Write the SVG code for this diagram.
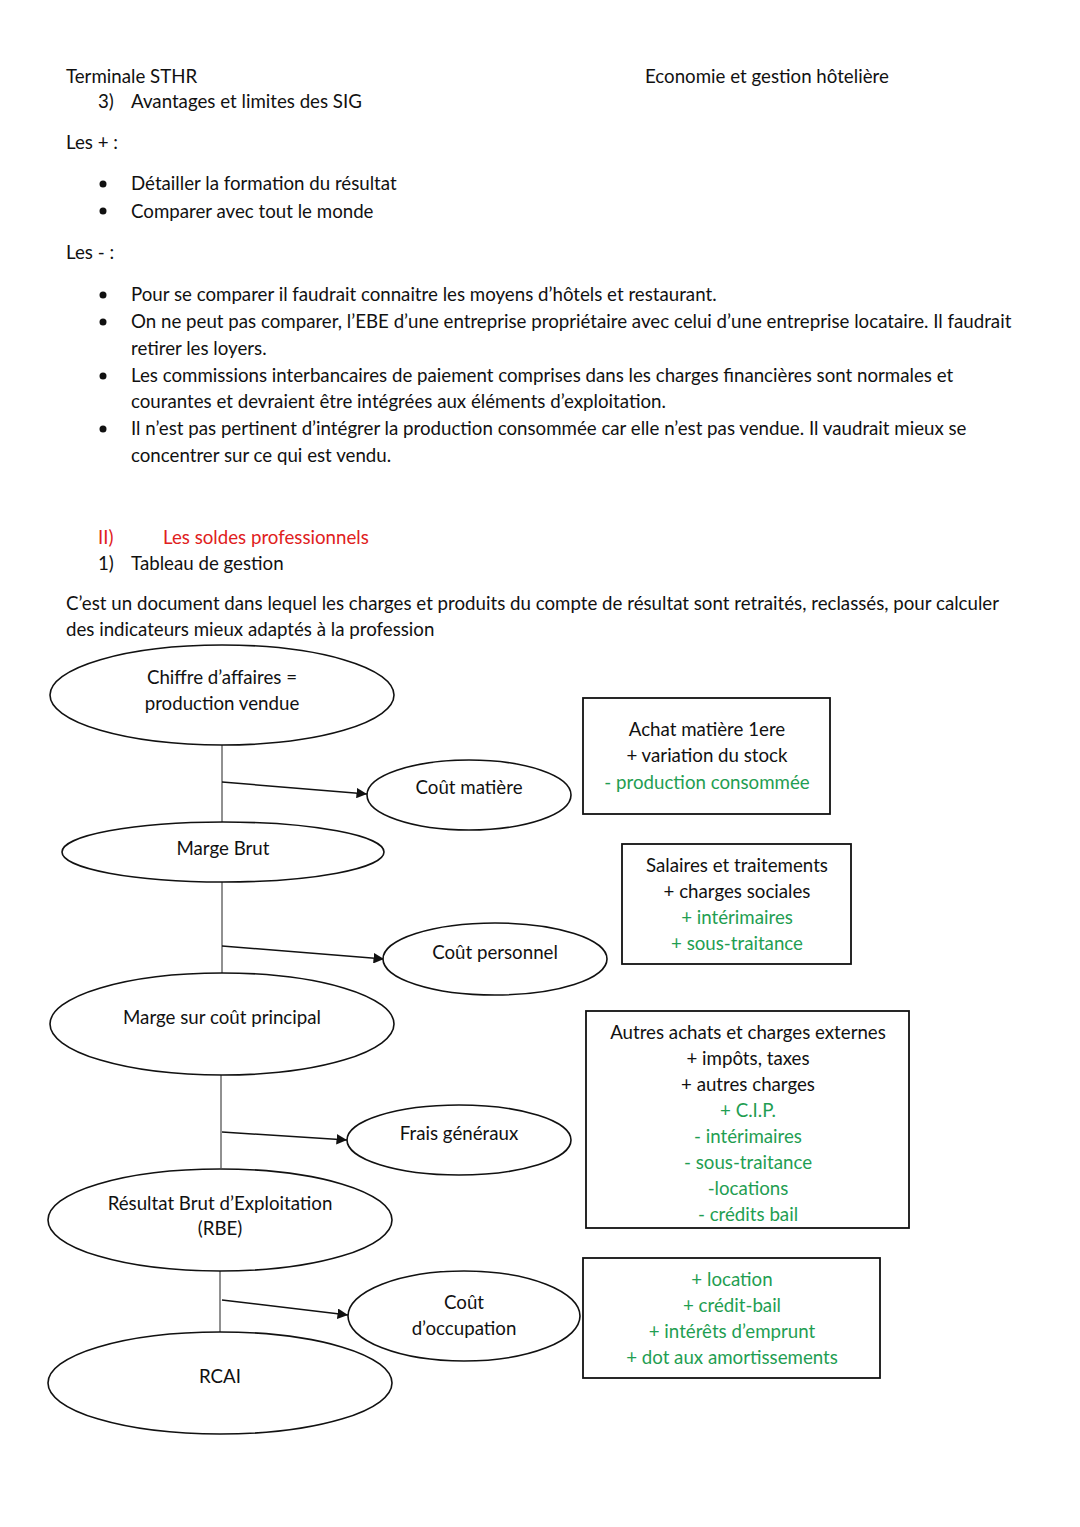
<svg xmlns="http://www.w3.org/2000/svg" width="1080" height="1527" viewBox="0 0 1080 1527">
<style>
text{font-family:Lato,"Open Sans","Liberation Sans",sans-serif;font-size:18.7px;fill:#111}
.c{text-anchor:middle}
.g{fill:#1f9e52}
.r{fill:#e02020}
.n{fill:#fff;stroke:#111;stroke-width:1.6}
.b{fill:#fff;stroke:#111;stroke-width:1.8}
.v{stroke:#222;stroke-width:1}
.a{stroke:#111;stroke-width:1.5;marker-end:url(#ah)}
</style>
<defs>
<marker id="ah" viewBox="0 0 10 10" refX="10" refY="5" markerWidth="7" markerHeight="7" markerUnits="strokeWidth" orient="auto">
<path d="M0,0L10,5L0,10z" fill="#111"/>
</marker>
</defs>
<rect width="1080" height="1527" fill="#fff"/>
<g id="header">
<text x="66" y="83">Terminale STHR</text>
<text x="645" y="83">Economie et gestion hôtelière</text>
<text x="98" y="108">3)</text>
<text x="131" y="108">Avantages et limites des SIG</text>
<text x="66" y="149">Les + :</text>
<circle cx="103" cy="184" r="3.5" fill="#111"/>
<text x="131" y="190">Détailler la formation du résultat</text>
<circle cx="103" cy="211" r="3.5" fill="#111"/>
<text x="131" y="218">Comparer avec tout le monde</text>
<text x="66" y="259">Les - :</text>
<circle cx="103" cy="295" r="3.5" fill="#111"/>
<text x="131" y="301">Pour se comparer il faudrait connaitre les moyens d’hôtels et restaurant.</text>
<circle cx="103" cy="322" r="3.5" fill="#111"/>
<text x="131" y="328">On ne peut pas comparer, l’EBE d’une entreprise propriétaire avec celui d’une entreprise locataire. Il faudrait</text>
<text x="131" y="355">retirer les loyers.</text>
<circle cx="103" cy="376" r="3.5" fill="#111"/>
<text x="131" y="382">Les commissions interbancaires de paiement comprises dans les charges financières sont normales et</text>
<text x="131" y="408">courantes et devraient être intégrées aux éléments d’exploitation.</text>
<circle cx="103" cy="429" r="3.5" fill="#111"/>
<text x="131" y="435">Il n’est pas pertinent d’intégrer la production consommée car elle n’est pas vendue. Il vaudrait mieux se</text>
<text x="131" y="462">concentrer sur ce qui est vendu.</text>
<text x="98" y="544" class="r">II)</text>
<text x="163" y="544" class="r">Les soldes professionnels</text>
<text x="98" y="570">1)</text>
<text x="131" y="570">Tableau de gestion</text>
<text x="66" y="610">C’est un document dans lequel les charges et produits du compte de résultat sont retraités, reclassés, pour calculer</text>
<text x="66" y="636">des indicateurs mieux adaptés à la profession</text>
</g>
<g id="connectors">
<line class="v" x1="222" y1="745" x2="222" y2="823"/>
<line class="a" x1="222" y1="782" x2="367" y2="794"/>
<line class="v" x1="222" y1="882" x2="222" y2="973"/>
<line class="a" x1="222" y1="946" x2="384" y2="959"/>
<line class="v" x1="221" y1="1075" x2="221" y2="1168"/>
<line class="a" x1="222" y1="1132" x2="347" y2="1140"/>
<line class="v" x1="220" y1="1271" x2="220" y2="1332"/>
<line class="a" x1="222" y1="1300" x2="348" y2="1315"/>
</g>
<g id="ca">
<ellipse class="n" cx="222" cy="695" rx="172" ry="50"/>
<text class="c" x="222" y="684">Chiffre d’affaires =</text>
<text class="c" x="222" y="710">production vendue</text>
</g>
<g id="cout-matiere">
<ellipse class="n" cx="469" cy="795" rx="102" ry="35"/>
<text class="c" x="469" y="794">Coût matière</text>
</g>
<g id="marge-brut">
<ellipse class="n" cx="223" cy="852" rx="161" ry="30"/>
<text class="c" x="223" y="855">Marge Brut</text>
</g>
<g id="cout-personnel">
<ellipse class="n" cx="495" cy="959" rx="112" ry="36"/>
<text class="c" x="495" y="959">Coût personnel</text>
</g>
<g id="marge-cout-principal">
<ellipse class="n" cx="222" cy="1024" rx="172" ry="51"/>
<text class="c" x="222" y="1024">Marge sur coût principal</text>
</g>
<g id="frais-generaux">
<ellipse class="n" cx="459" cy="1140" rx="112" ry="35"/>
<text class="c" x="459" y="1140">Frais généraux</text>
</g>
<g id="rbe">
<ellipse class="n" cx="220" cy="1220" rx="172" ry="51"/>
<text class="c" x="220" y="1210">Résultat Brut d’Exploitation</text>
<text class="c" x="220" y="1235">(RBE)</text>
</g>
<g id="cout-occupation">
<ellipse class="n" cx="464" cy="1316" rx="116" ry="45"/>
<text class="c" x="464" y="1309">Coût</text>
<text class="c" x="464" y="1335">d’occupation</text>
</g>
<g id="rcai">
<ellipse class="n" cx="220" cy="1383" rx="172" ry="51"/>
<text class="c" x="220" y="1383">RCAI</text>
</g>
<g id="box-matiere">
<rect class="b" x="583" y="698" width="247" height="116"/>
<text class="c" x="707" y="736">Achat matière 1ere</text>
<text class="c" x="707" y="762">+ variation du stock</text>
<text class="c g" x="707" y="789">- production consommée</text>
</g>
<g id="box-personnel">
<rect class="b" x="622" y="844" width="229" height="120"/>
<text class="c" x="737" y="872">Salaires et traitements</text>
<text class="c" x="737" y="898">+ charges sociales</text>
<text class="c g" x="737" y="924">+ intérimaires</text>
<text class="c g" x="737" y="950">+ sous-traitance</text>
</g>
<g id="box-frais">
<rect class="b" x="586" y="1011" width="323" height="217"/>
<text class="c" x="748" y="1039">Autres achats et charges externes</text>
<text class="c" x="748" y="1065">+ impôts, taxes</text>
<text class="c" x="748" y="1091">+ autres charges</text>
<text class="c g" x="748" y="1117">+ C.I.P.</text>
<text class="c g" x="748" y="1143">- intérimaires</text>
<text class="c g" x="748" y="1169">- sous-traitance</text>
<text class="c g" x="748" y="1195">-locations</text>
<text class="c g" x="748" y="1221">- crédits bail</text>
</g>
<g id="box-occupation">
<rect class="b" x="583" y="1258" width="297" height="120"/>
<text class="c g" x="732" y="1286">+ location</text>
<text class="c g" x="732" y="1312">+ crédit-bail</text>
<text class="c g" x="732" y="1338">+ intérêts d’emprunt</text>
<text class="c g" x="732" y="1364">+ dot aux amortissements</text>
</g>
</svg>
